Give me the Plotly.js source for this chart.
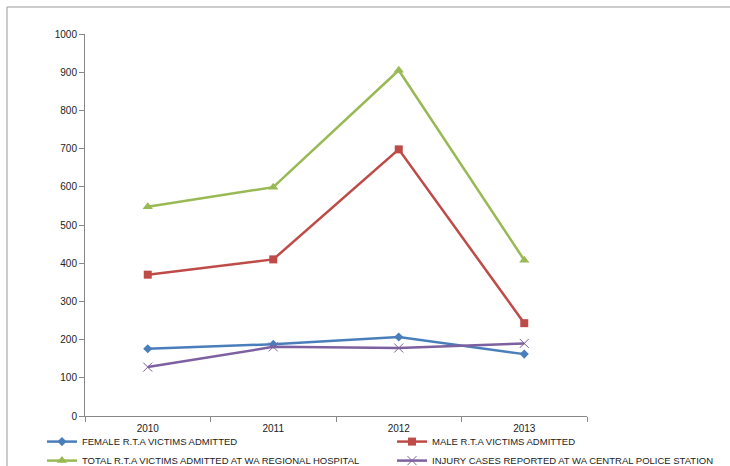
<!DOCTYPE html>
<html>
<head>
<meta charset="utf-8">
<script src="https://cdn.plot.ly/plotly-3.0.1.min.js"></script>
<style>html,body{margin:0;padding:0;background:#fff;}#chart{width:730px;height:466px;}</style>
</head>
<body>
<div id="chart"></div>
<script>
const years = ['2010', '2011', '2012', '2013'];
const female = [176, 188, 207, 162];
const male = [370, 410, 698, 243];
const total = [548, 599, 905, 408];
const injury = [128, 181, 178, 190];
const seriesNames = [
  'FEMALE R.T.A VICTIMS ADMITTED',
  'MALE R.T.A VICTIMS ADMITTED',
  'TOTAL R.T.A VICTIMS ADMITTED AT WA REGIONAL HOSPITAL',
  'INJURY CASES REPORTED AT WA CENTRAL POLICE STATION'
];
const yTicks = [0, 100, 200, 300, 400, 500, 600, 700, 800, 900, 1000];

const colors = ['#4a7ebb', '#be4b48', '#98b954', '#7d60a0'];
const symbols = ['diamond', 'square', 'triangle-up', 'x-thin-open'];
const sizes = [7, 8, 9, 9];
const legendIds = ['legend', 'legend2', 'legend', 'legend2'];
const values = [female, male, total, injury];

const traces = values.map((v, i) => ({
  x: years, y: v, name: seriesNames[i], type: 'scatter', mode: 'lines+markers',
  legend: legendIds[i],
  line: {color: colors[i], width: 2.5},
  marker: {symbol: symbols[i], size: sizes[i], color: colors[i], line: {color: colors[i], width: i === 3 ? 1 : 0}}
}));

const legendBase = {
  orientation: 'v', xref: 'paper', yref: 'container', y: 0.0835, xanchor: 'left', yanchor: 'top',
  tracegroupgap: 0, itemwidth: 30, font: {size: 9.5, color: '#222'}, bgcolor: 'rgba(0,0,0,0)'
};

const layout = {
  width: 730, height: 466,
  margin: {l: 85, r: 143, t: 34, b: 50},
  paper_bgcolor: '#fff', plot_bgcolor: '#fff',
  font: {family: 'Liberation Sans, Arial, sans-serif', size: 10, color: '#222'},
  showlegend: true,
  legend: Object.assign({}, legendBase, {x: -0.0857}),
  legend2: Object.assign({}, legendBase, {x: 0.6116}),
  xaxis: {type: 'category', range: [-0.5, 3.5], showgrid: false, zeroline: false, showline: true, linecolor: '#888', linewidth: 1,
    ticks: 'outside', ticklen: 5, tickcolor: '#888', tickson: 'boundaries', ticklabelstandoff: 3,
    tickfont: {size: 10, color: '#222'}, fixedrange: true},
  yaxis: {range: [0, 1000], tickvals: yTicks, showgrid: false, zeroline: false, showline: true,
    linecolor: '#888', linewidth: 1, ticks: 'outside', ticklen: 5, tickcolor: '#888',
    tickfont: {size: 10, color: '#222'}, fixedrange: true},
  shapes: [
    {type: 'line', xref: 'paper', yref: 'paper', x0: -0.1554, x1: 1.3, y0: 1.0707, y1: 1.0707, line: {color: '#999', width: 1}},
    {type: 'line', xref: 'paper', yref: 'paper', x0: -0.1554, x1: -0.1554, y0: 1.0707, y1: -0.2, line: {color: '#999', width: 1}}
  ]
};

Plotly.newPlot('chart', traces, layout, {displayModeBar: false, staticPlot: true});
</script>
</body>
</html>
